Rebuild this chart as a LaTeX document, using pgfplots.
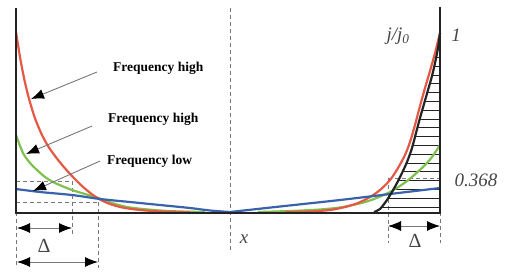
\documentclass[border=0pt]{standalone}
\usepackage{fontspec}
\setmainfont{Liberation Serif}
\usepackage{pgfplots}
\pgfplotsset{compat=1.18}
\usetikzlibrary{arrows.meta}
\definecolor{cred}{RGB}{228,88,68}
\definecolor{cgreen}{RGB}{128,192,78}
\definecolor{cblue}{RGB}{58,98,170}
\definecolor{cblack}{RGB}{35,35,35}
\definecolor{cdash}{RGB}{120,120,120}
\definecolor{lab}{RGB}{70,70,70}
\begin{document}
\begin{tikzpicture}
\begin{axis}[hide axis, scale only axis, width=509pt, height=277pt,
  xmin=0, xmax=509, ymin=0, ymax=277, y dir=reverse, clip=false,
  unbounded coords=jump]
% guide dashed lines
\addplot[cdash, line width=0.8pt, dash pattern=on 4pt off 3pt] coordinates {(230,8) (230,250)};
\addplot[cdash, line width=0.8pt, dash pattern=on 4pt off 3pt] coordinates {(16,212) (16,268) (nan,nan) (72,181) (72,234) (nan,nan) (98,202) (98,268) (nan,nan) (16,181) (72,181) (nan,nan) (16,202) (98,202)};
\addplot[cdash, line width=0.8pt, dash pattern=on 4pt off 3pt] coordinates {(388,178) (388,243) (nan,nan) (440,212) (440,243) (nan,nan) (388,178) (440,178)};
% hatching
\addplot[cblack, line width=0.7pt] coordinates {
(381.6,207) (440,207) (nan,nan) (388.1,198.2) (440,198.2) (nan,nan)
(393.4,189.4) (440,189.4) (nan,nan) (398.2,180.6) (440,180.6) (nan,nan)
(402.5,171.8) (440,171.8) (nan,nan) (406.5,163) (440,163) (nan,nan)
(409.8,154.2) (440,154.2) (nan,nan) (412.7,145.4) (440,145.4) (nan,nan)
(415.0,136.6) (440,136.6) (nan,nan) (417.4,127.8) (440,127.8) (nan,nan)
(419.7,119) (440,119) (nan,nan) (422.2,110.2) (440,110.2) (nan,nan)
(424.7,101.4) (440,101.4) (nan,nan) (427.5,92.6) (440,92.6) (nan,nan)
(429.8,83.8) (440,83.8) (nan,nan) (432.2,75) (440,75) (nan,nan)
(434.3,66.2) (440,66.2) (nan,nan) (436.1,57.4) (440,57.4) (nan,nan)
(437.9,48.6) (440,48.6)};
% left curves
\addplot[cgreen, line width=2.2pt, smooth] coordinates {(16,135) (23,153) (30,163) (37,170) (45,177) (53,182) (62,186) (72,190) (85,194) (98,198) (112,203) (127,207) (143,209) (160,210.5) (180,211.5) (205,212)};
\addplot[cred, line width=2.2pt, smooth] coordinates {(16,32) (20,57) (24,78) (28,95) (32,109) (36,121) (42,135) (48,146) (55,156) (63,166) (72,176) (82,186) (93,195) (105,202) (120,207) (140,210) (165,211.6) (190,212)};
\addplot[cblue, line width=2.2pt, smooth] coordinates {(16,189) (40,192) (72,195) (100,199) (130,202) (160,205) (190,208) (210,210.5) (230,212)};
% right curves
\addplot[cgreen, line width=2.2pt, smooth] coordinates {(258,212) (290,211) (320,209.5) (340,207.5) (355,204.5) (370,200.5) (390,192) (407,181) (423,167) (432,157) (440,145)};
\addplot[cred, line width=2.2pt, smooth] coordinates {(285,212) (310,211.5) (330,210) (345,207) (358,203) (370,197) (380,190) (390,180) (398,168) (405,155) (410,142) (415,125) (420,106) (425,88) (430,71) (435,53) (440,33)};
\addplot[cblue, line width=2.2pt, smooth] coordinates {(230,212) (280,206.5) (340,200) (390,194) (440,188)};
\addplot[cblack, line width=2.2pt, smooth] coordinates {(374,212) (380,209) (387,200) (392,192) (397,183) (402,173) (407,162) (412,148) (416,133) (420,118) (424,104) (428,90) (432,76) (435,63) (438,48) (440,33)};
% axes
\addplot[cblack, line width=2pt] coordinates {(16,8) (16,212.5) (440,212.5) (440,7)};
% arrows pointing to curves
\addplot[cdash, line width=0.9pt, -{Latex[length=13pt,width=10pt,color=black]}] coordinates {(97,72) (31,99)};
\addplot[cdash, line width=0.9pt, -{Latex[length=13pt,width=10pt,color=black]}] coordinates {(92,126) (26,154)};
\addplot[cdash, line width=0.9pt, -{Latex[length=13pt,width=10pt,color=black]}] coordinates {(100,161) (33,191)};
% delta arrows
\addplot[cdash, line width=0.9pt, {Latex[length=13pt,width=10pt,color=black]}-{Latex[length=13pt,width=10pt,color=black]}] coordinates {(17,228) (72,228)};
\addplot[cdash, line width=0.9pt, {Latex[length=13pt,width=10pt,color=black]}-{Latex[length=13pt,width=10pt,color=black]}] coordinates {(17,262) (98,262)};
\addplot[cdash, line width=0.9pt, {Latex[length=13pt,width=10pt,color=black]}-{Latex[length=13pt,width=10pt,color=black]}] coordinates {(388,226) (440,226)};
% labels
\node[anchor=base west, font=\fontsize{13.5}{15}\selectfont\bfseries, inner sep=0pt] at (axis cs:113,71) {Frequency high};
\node[anchor=base west, font=\fontsize{13.5}{15}\selectfont\bfseries, inner sep=0pt] at (axis cs:108,122) {Frequency high};
\node[anchor=base west, font=\fontsize{13.5}{15}\selectfont\bfseries, inner sep=0pt] at (axis cs:107,164) {Frequency low};
\node[font=\fontsize{20}{22}\selectfont, text=lab, inner sep=0pt] at (axis cs:44,246) {Δ};
\node[font=\fontsize{20}{22}\selectfont, text=lab, inner sep=0pt] at (axis cs:415,241) {Δ};
\node[font=\fontsize{19}{21}\selectfont\itshape, text=lab, inner sep=0pt] at (axis cs:244,239) {x};
\node[font=\fontsize{19}{21}\selectfont\itshape, text=lab, inner sep=0pt] at (axis cs:398,36) {j/j\textsubscript{0}};
\node[font=\fontsize{19}{21}\selectfont\itshape, text=lab, inner sep=0pt] at (axis cs:456,35) {1};
\node[font=\fontsize{19}{21}\selectfont\itshape, text=lab, inner sep=0pt] at (axis cs:476,180) {0.368};
\end{axis}
\pgfresetboundingbox
\path (current axis.south west) rectangle (current axis.north east);
\end{tikzpicture}
\end{document}
